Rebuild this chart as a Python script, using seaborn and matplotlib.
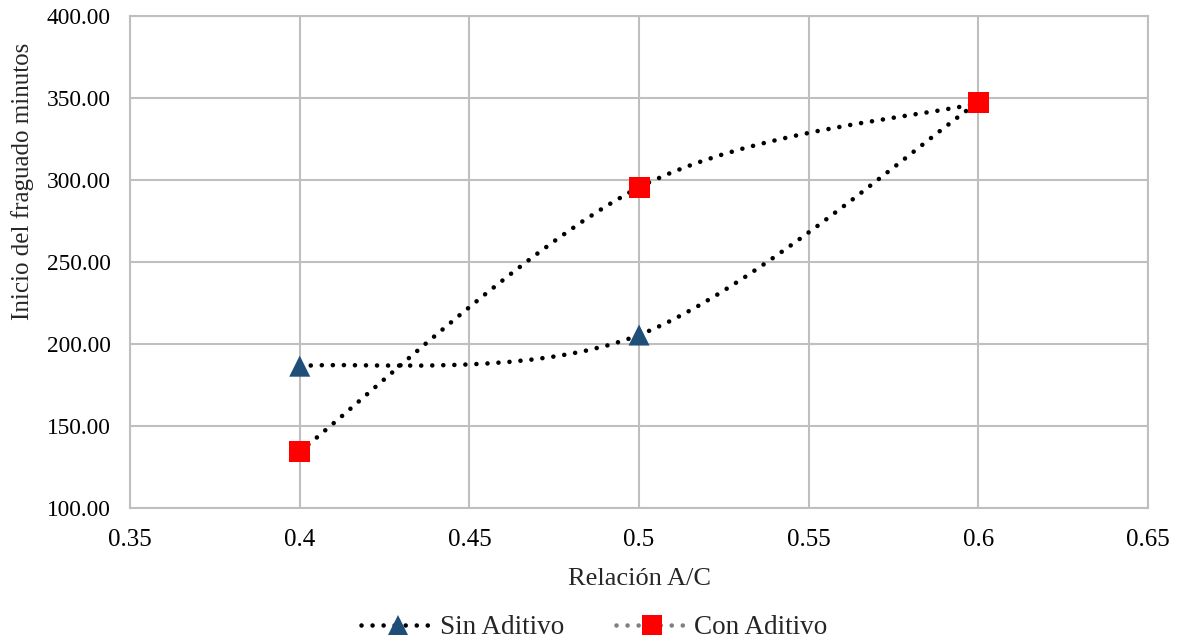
import numpy as np
import pandas as pd
import matplotlib
matplotlib.use("Agg")
import matplotlib.pyplot as plt
from matplotlib.path import Path
from matplotlib.patches import PathPatch
from matplotlib.lines import Line2D
import seaborn as sns

# ---- data ----
relacion_ac = [0.4, 0.5, 0.6]
sin_aditivo = [186.5, 205.5, 347.5]
con_aditivo = [134.5, 295.5, 347.0]
series_names = ["Sin Aditivo", "Con Aditivo"]
x_ticks = [0.35, 0.4, 0.45, 0.5, 0.55, 0.6, 0.65]
x_tick_labels = ["0.35", "0.4", "0.45", "0.5", "0.55", "0.6", "0.65"]
y_ticks = [100, 150, 200, 250, 300, 350, 400]

sns.set_theme(style="white")
plt.rcParams["font.family"] = ["Liberation Serif", "DejaVu Serif"]

fig = plt.figure(figsize=(11.77, 6.42), dpi=100)
ax = fig.add_axes([0.1105, 0.2087, 0.8649, 0.7663])

grid_c = "#bfbfbf"


def smooth_path(xs, ys):
    """Excel-like smoothed line as cubic Bezier segments through the points."""
    pts = np.column_stack([xs, ys]).astype(float)
    n = len(pts)
    verts = [pts[0]]
    codes = [Path.MOVETO]
    for i in range(n - 1):
        p_prev = pts[i - 1] if i > 0 else pts[i]
        p_next2 = pts[i + 2] if i + 2 < n else pts[i + 1]
        c1 = pts[i] + (pts[i + 1] - p_prev) / 6.0
        c2 = pts[i + 1] - (p_next2 - pts[i]) / 6.0
        verts += [c1, c2, pts[i + 1]]
        codes += [Path.CURVE4] * 3
    return Path(verts, codes)


LW = 3.3
dot_style = (0, (0.01, 2.4))
for ys in (sin_aditivo, con_aditivo):
    patch = PathPatch(smooth_path(relacion_ac, ys), facecolor="none",
                      edgecolor="black", lw=LW, linestyle=dot_style,
                      capstyle="round", zorder=3)
    ax.add_patch(patch)

df = pd.DataFrame({
    "x": relacion_ac * 2,
    "y": sin_aditivo + con_aditivo,
    "serie": [series_names[0]] * 3 + [series_names[1]] * 3,
})
sns.scatterplot(data=df, x="x", y="y", hue="serie", style="serie",
                markers={"Sin Aditivo": "^", "Con Aditivo": "s"},
                palette={"Sin Aditivo": "#1f4e79", "Con Aditivo": "#ff0000"},
                s=230, ax=ax, legend=False, zorder=4, linewidth=0)

ax.set_xlim(0.35, 0.65)
ax.set_ylim(100, 400)
ax.set_xticks(x_ticks)
ax.set_xticklabels(x_tick_labels)
ax.set_yticks(y_ticks)
ax.set_yticklabels([f"{v:.2f}" for v in y_ticks])
ax.grid(True, color=grid_c, lw=1.5)
ax.set_axisbelow(True)
for sp in ax.spines.values():
    sp.set_color(grid_c)
    sp.set_linewidth(1.5)
ax.tick_params(axis="y", labelsize=16.8, colors="black", length=0, pad=14)
ax.tick_params(axis="x", labelsize=18, colors="black", length=0, pad=15)
ax.set_xlabel("Relación A/C", fontsize=19, labelpad=12)
ax.set_ylabel("Inicio del fraguado minutos", fontsize=18, va="center")
ax.yaxis.set_label_coords(-0.106, 0.663)

handles = [
    Line2D([], [], color="black", linestyle=dot_style, lw=LW,
           marker="^", markersize=14, markerfacecolor="#1f4e79",
           markeredgewidth=0, dash_capstyle="round"),
    Line2D([], [], color="#808080", linestyle=dot_style, lw=LW,
           marker="s", markersize=14, markerfacecolor="#ff0000",
           markeredgewidth=0, dash_capstyle="round"),
]
fig.legend(handles, series_names, loc="center", bbox_to_anchor=(0.505, 0.022),
           ncol=2, frameon=False, fontsize=19.5, handlelength=2.7,
           columnspacing=1.9, handletextpad=0.2)

fig.savefig("out.png", dpi=100)
